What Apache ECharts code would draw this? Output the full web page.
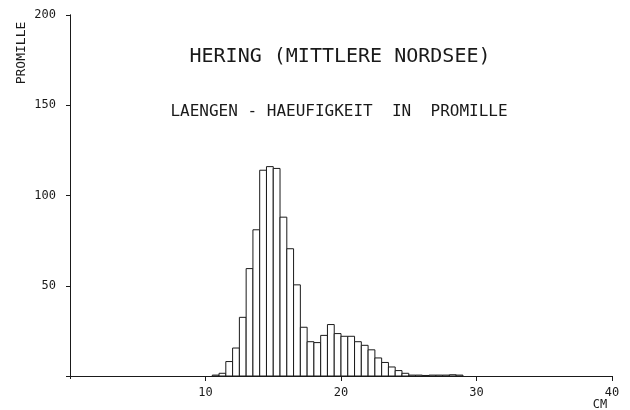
<!DOCTYPE html>
<html>
<head>
<meta charset="utf-8">
<script src="https://cdn.jsdelivr.net/npm/echarts@6/dist/echarts.min.js"></script>
<style>
  html, body { margin: 0; padding: 0; background: #fff; }
  #chart { width: 630px; height: 410px; }
</style>
</head>
<body>
<div id="chart"></div>
<script>
// lower edge of each length class (cm), classes are 0.5 cm wide
var lengths = [10.5, 11, 11.5, 12, 12.5, 13, 13.5, 14, 14.5, 15, 15.5, 16, 16.5, 17, 17.5, 18, 18.5,
  19, 19.5, 20, 20.5, 21, 21.5, 22, 22.5, 23, 23.5, 24, 24.5, 25, 25.5, 26, 26.5, 27, 27.5, 28, 28.5];
var promille = [0.5, 1.5, 8, 15.5, 32.5, 59.5, 81, 114, 116, 115, 88, 70.5, 50.5, 27, 19, 18.5, 22.5,
  28.5, 23.5, 22, 22, 19, 17, 14.5, 10, 7.5, 5, 3, 1.5, 0.5, 0.5, 0.3, 0.5, 0.5, 0.5, 0.7, 0.5];
var classWidth = 0.5;
var xTicks = [0, 10, 20, 30, 40];
var yTicks = [0, 50, 100, 150, 200];

var ink = '#1a1a1a';
var mono = '"DejaVu Sans Mono", "Liberation Mono", monospace';

var bars = [];
for (var i = 0; i < lengths.length; i++) {
  bars.push([lengths[i], lengths[i] + classWidth, promille[i]]);
}

var chart = echarts.init(document.getElementById('chart'));

var option = {
  backgroundColor: '#fff',
  animation: false,
  grid: { left: 70, right: 18, top: 15, bottom: 34, outerBoundsMode: 'none', containLabel: false },
  xAxis: [{
    type: 'value',
    min: xTicks[0], max: xTicks[xTicks.length - 1], interval: 10,
    axisLine: { lineStyle: { color: ink, width: 1 } },
    axisTick: { show: true, inside: false, length: 5, lineStyle: { color: ink } },
    axisLabel: {
      showMinLabel: false, color: ink, fontFamily: mono, fontSize: 12, margin: 11
    },
    splitLine: { show: false }
  }, {
    type: 'value', position: 'top',
    min: xTicks[0], max: xTicks[xTicks.length - 1], interval: 10,
    axisLine: { show: true, lineStyle: { color: ink, width: 1 } },
    axisTick: { show: true, inside: true, length: 3, lineStyle: { color: ink } },
    axisLabel: { show: false },
    splitLine: { show: false }
  }],
  yAxis: [{
    type: 'value',
    min: yTicks[0], max: yTicks[yTicks.length - 1], interval: 50,
    axisLine: { show: true, lineStyle: { color: ink, width: 1 } },
    axisTick: { show: true, inside: false, length: 4, lineStyle: { color: ink } },
    axisLabel: {
      showMinLabel: false, color: ink, fontFamily: mono, fontSize: 12, margin: 14
    },
    splitLine: { show: false }
  }, {
    type: 'value', position: 'right',
    min: yTicks[0], max: yTicks[yTicks.length - 1], interval: 50,
    axisLine: { show: true, lineStyle: { color: ink, width: 1 } },
    axisTick: { show: true, inside: true, length: 4, lineStyle: { color: ink } },
    axisLabel: { show: false },
    splitLine: { show: false }
  }],
  graphic: [
    { type: 'text', x: 340, y: 57,
      style: { text: 'HERING (MITTLERE NORDSEE)', fill: ink, font: '20px ' + mono,
        textAlign: 'center', textVerticalAlign: 'middle' } },
    { type: 'text', x: 339, y: 112,
      style: { text: 'LAENGEN - HAEUFIGKEIT  IN  PROMILLE', fill: ink, font: '16px ' + mono,
        textAlign: 'center', textVerticalAlign: 'middle' } },
    { type: 'text', x: 22, y: 53, rotation: Math.PI / 2,
      style: { text: 'PROMILLE', fill: ink, font: '13px ' + mono,
        textAlign: 'center', textVerticalAlign: 'middle' } },
    { type: 'text', x: 600, y: 405,
      style: { text: 'CM', fill: ink, font: '12px ' + mono,
        textAlign: 'center', textVerticalAlign: 'middle' } }
  ],
  series: [{
    type: 'custom',
    xAxisIndex: 0, yAxisIndex: 0,
    encode: { x: [0, 1], y: 2 },
    data: bars,
    renderItem: function (params, api) {
      var top = api.coord([api.value(0), api.value(2)]);
      var base = api.coord([api.value(1), 0]);
      return {
        type: 'rect',
        shape: { x: top[0], y: top[1], width: base[0] - top[0], height: base[1] - top[1] },
        style: { fill: '#fff', stroke: ink, lineWidth: 1 }
      };
    }
  }]
};

chart.setOption(option);
</script>
</body>
</html>
